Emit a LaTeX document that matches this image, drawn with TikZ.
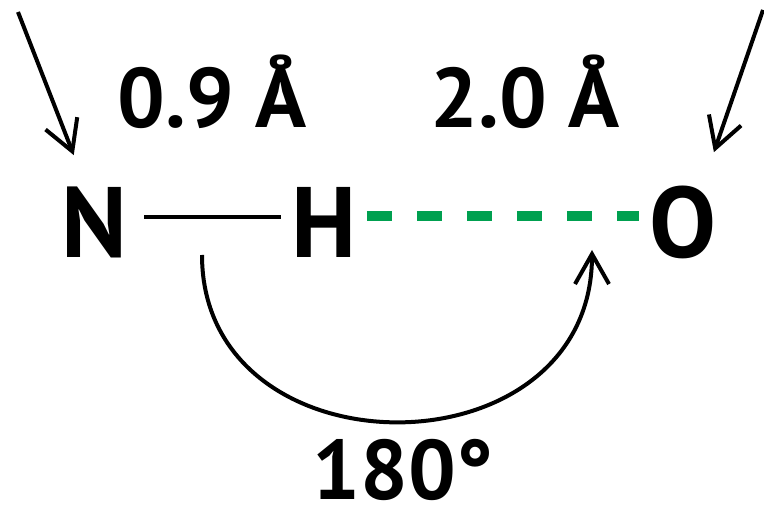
\documentclass[tikz,border=0pt]{standalone}
\usepackage{fontspec}
\setmainfont{PT Sans}
\usepackage{tikz}
\usetikzlibrary{calc,arrows.meta}
\definecolor{hbond}{RGB}{0,160,80}
\tikzset{
  atom/.style={inner sep=0.2cm, font=\fontsize{57}{60}\selectfont\bfseries},
  dist/.style={inner sep=0pt, anchor=base, font=\fontsize{48}{52}\selectfont\bfseries},
  pointer/.style={line width=0.08cm, -{Straight Barb[length=0.6cm,width=0.68cm,line width=0.08cm]}}
}

\begin{document}
\begin{tikzpicture}[x=0.02cm,y=-0.02cm]
		%%%%% START %%%%%
		\useasboundingbox (0,0) rectangle (764,509);
		
		\node[atom] (N) at (94,222) {N};
		\node[atom] (H) at (324,222) {H};
		\node[atom] (O) at (683,222) {O};
		
		\node[dist] (d1) at (212,128) {0.9 Å};
		\node[dist] (d2) at (525,128) {2.0 Å};
		\node[dist] (ang) at (403,500) {180°};
		
		% bonds
		\draw[line width=0.07cm, shorten <=0.14cm] ([yshift=0.1cm]N.east) -- ([yshift=0.1cm]H.west);
		\draw[line width=0.2cm, color=hbond, dash pattern=on 0.5cm off 0.5cm] ([yshift=0.12cm]H.east) -- ([yshift=0.12cm]O.west);
		
		% pointers
		\coordinate (ntail) at (18,12);
		\coordinate (otail) at (763,10);
		\draw[pointer] (ntail) -- ($(N.north west)+(23,-21)$);
		\draw[pointer] (otail) -- ($(O.north east)+(-13,-23)$);
		
		% angle
		\coordinate (a1) at (202,255);
		\coordinate (a2) at (592,250);
		\draw[pointer] (a1) .. controls (202,478) and (592,478) .. (a2);
		
		%%%%% END %%%%%
	\end{tikzpicture}
\end{document}
